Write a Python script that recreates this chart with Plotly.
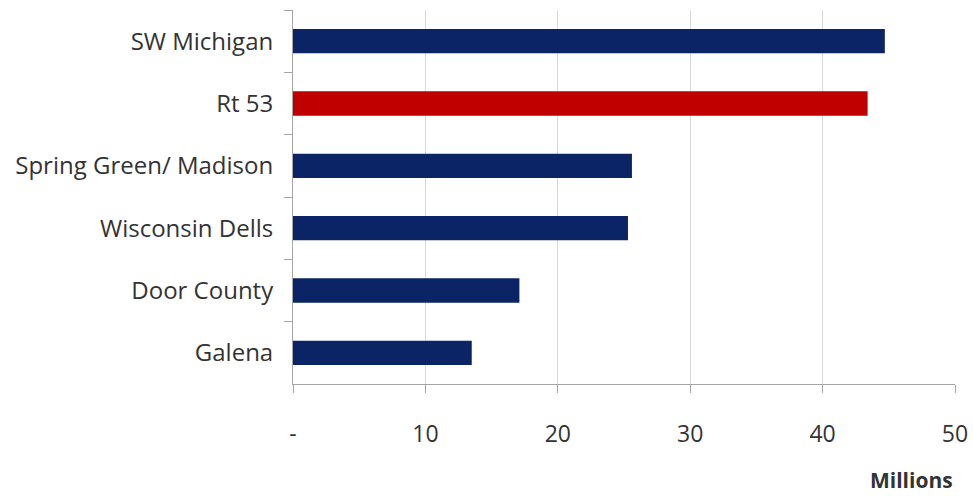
import plotly.graph_objects as go

categories = ["SW Michigan", "Rt 53", "Spring Green/ Madison", "Wisconsin Dells", "Door County", "Galena"]
values = [44.7, 43.4, 25.6, 25.3, 17.1, 13.5]
bar_colors = ["#0a2466", "#c00000", "#0a2466", "#0a2466", "#0a2466", "#0a2466"]
tick_vals = [0, 10, 20, 30, 40, 50]
tick_text = ["-", "10", "20", "30", "40", "50"]

fig = go.Figure(go.Bar(
    x=values, y=categories, orientation="h",
    marker=dict(color=bar_colors, line=dict(width=0)),
    width=0.39,
))

font_family = "Open Sans, sans-serif"
fig.update_layout(
    width=973, height=496,
    margin=dict(l=293, r=18, t=10, b=112),
    paper_bgcolor="white", plot_bgcolor="white",
    showlegend=False,
    font=dict(family=font_family, size=24, color="#333333"),
    xaxis=dict(
        range=[0, 50], tickvals=tick_vals, ticktext=tick_text,
        showgrid=True, gridcolor="#d9d9d9", gridwidth=1,
        showline=True, linecolor="#a6a6a6", linewidth=1,
        ticks="outside", ticklen=8, tickcolor="#a6a6a6",
        ticklabelstandoff=21,
        tickfont=dict(size=23, family=font_family, color="#333333"),
        zeroline=False, fixedrange=True, automargin=False,
    ),
    yaxis=dict(
        categoryorder="array", categoryarray=categories,
        autorange="reversed",
        showline=True, linecolor="#a6a6a6", linewidth=1,
        ticks="outside", ticklen=8, tickcolor="#a6a6a6",
        tickson="boundaries",
        ticklabelstandoff=14,
        showgrid=False, automargin=False,
        tickfont=dict(size=24, family=font_family, color="#333333"),
    ),
    annotations=[dict(
        text="<b>Millions</b>", xref="paper", yref="paper",
        x=1.0, y=-0.257, xanchor="right", yanchor="middle",
        showarrow=False, font=dict(size=21, family=font_family, color="#333333"),
    )],
)

fig.write_html(
    "out.html",
    config={"displayModeBar": False},
    post_script="document.body.style.margin='0';document.body.style.overflow='hidden';",
)
